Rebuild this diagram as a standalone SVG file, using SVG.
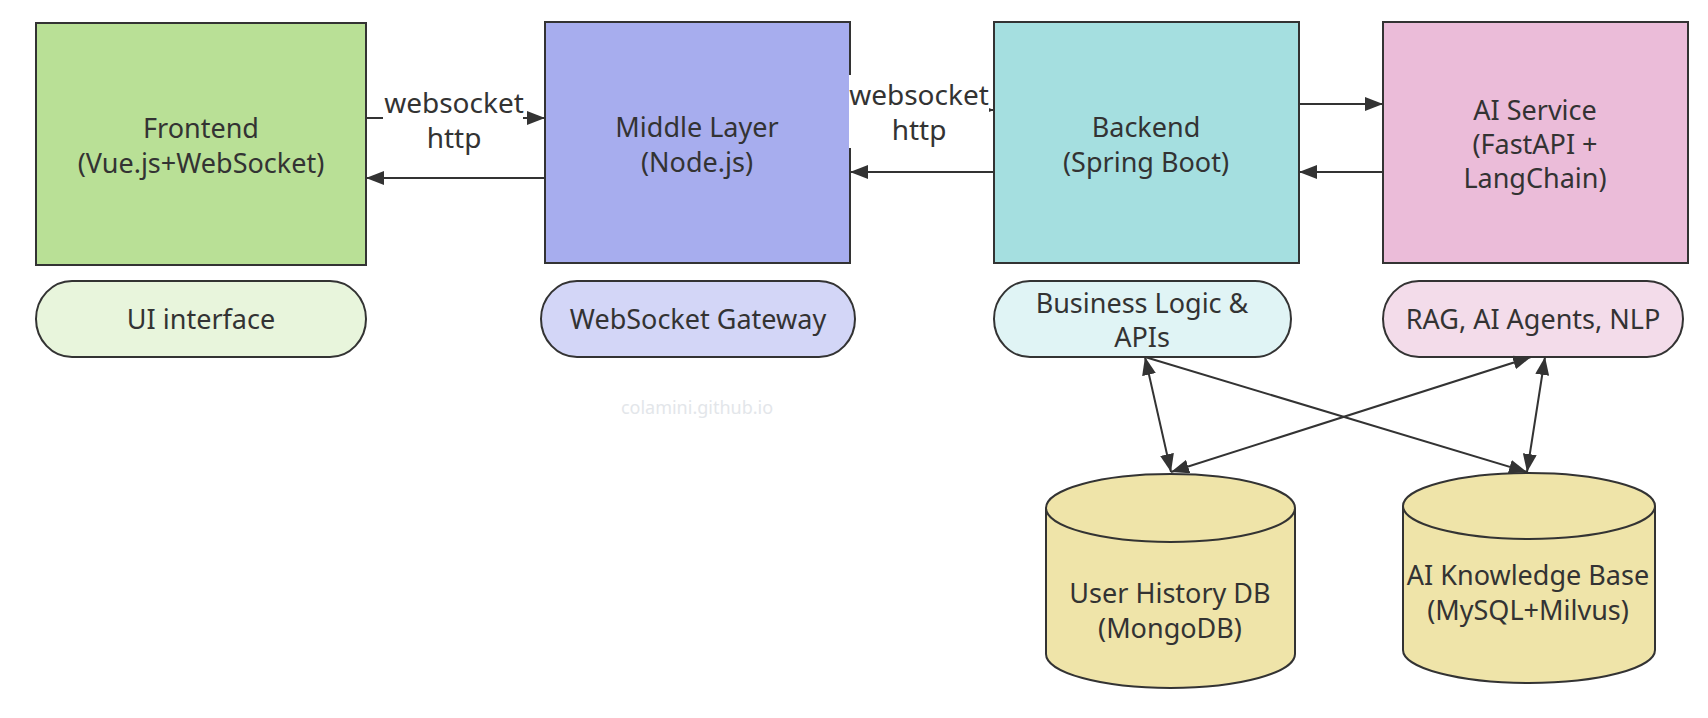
<svg xmlns="http://www.w3.org/2000/svg" width="1708" height="718" viewBox="0 0 1708 718">
<defs>
<marker id="arr" markerUnits="userSpaceOnUse" markerWidth="18" markerHeight="14" refX="18" refY="7" orient="auto-start-reverse">
<path d="M0,0 L18,7 L0,14 z" fill="#333"/>
</marker>
<style>
text{font-family:"Noto Sans","Open Sans","DejaVu Sans",sans-serif;fill:#333;text-anchor:middle}
.t{font-size:27px}
.e{font-size:28px}
.box{stroke:#333;stroke-width:2}
.pill{stroke:#333;stroke-width:2}
.db{fill:#efe4a9;stroke:#333;stroke-width:2}
.ln{fill:none;stroke:#333;stroke-width:2}
.lbl{fill:#fff}
.wm{font-size:18px;fill:#e3e6ea}
</style>
</defs>
<rect width="1708" height="718" fill="#fff"/>
<text class="wm" x="697" y="414">colamini.github.io</text>
<g id="frontend">
<rect class="box" x="36" y="23" width="330" height="242" fill="#b9e096"/>
<text class="t" x="201" y="138">Frontend</text>
<text class="t" x="201" y="173">(Vue.js+WebSocket)</text>
</g>
<g id="middle">
<rect class="box" x="545" y="22" width="305" height="241" fill="#a7adee"/>
<text class="t" x="697" y="137">Middle Layer</text>
<text class="t" x="697" y="172">(Node.js)</text>
</g>
<g id="backend">
<rect class="box" x="994" y="22" width="305" height="241" fill="#a5dfe0"/>
<text class="t" x="1146" y="137">Backend</text>
<text class="t" x="1146" y="172">(Spring Boot)</text>
</g>
<g id="aiservice">
<rect class="box" x="1383" y="22" width="305" height="241" fill="#ebbcd9"/>
<text class="t" x="1535" y="120">AI Service</text>
<text class="t" x="1535" y="154">(FastAPI +</text>
<text class="t" x="1535" y="188">LangChain)</text>
</g>
<g id="ui-interface">
<rect class="pill" x="36" y="281" width="330" height="76" rx="36" ry="38" fill="#e8f5dc"/>
<text class="t" x="201" y="329">UI interface</text>
</g>
<g id="ws-gateway">
<rect class="pill" x="541" y="281" width="314" height="76" rx="36" ry="38" fill="#d3d6f7"/>
<text class="t" x="698" y="329">WebSocket Gateway</text>
</g>
<g id="business">
<rect class="pill" x="994" y="281" width="297" height="76" rx="36" ry="38" fill="#e0f4f5"/>
<text class="t" x="1142" y="313">Business Logic &amp;</text>
<text class="t" x="1142" y="347">APIs</text>
</g>
<g id="rag">
<rect class="pill" x="1383" y="281" width="300" height="76" rx="36" ry="38" fill="#f3dcea"/>
<text class="t" x="1533" y="329">RAG, AI Agents, NLP</text>
</g>
<g id="userdb">
<path class="db" d="M1046,508 A124.5,34 0 0 1 1295,508 V654 A124.5,34 0 0 1 1046,654 Z"/>
<path class="ln" d="M1046,508 A124.5,34 0 0 0 1295,508"/>
<text class="t" x="1170" y="603">User History DB</text>
<text class="t" x="1170" y="638">(MongoDB)</text>
</g>
<g id="kb">
<path class="db" d="M1403,506 A126,33 0 0 1 1655,506 V650 A126,33 0 0 1 1403,650 Z"/>
<path class="ln" d="M1403,506 A126,33 0 0 0 1655,506"/>
<text class="t" x="1528" y="585">AI Knowledge Base</text>
<text class="t" x="1528" y="620">(MySQL+Milvus)</text>
</g>
<g id="connectors">
<path class="ln" d="M366,118 H545" marker-end="url(#arr)"/>
<rect class="lbl" x="383" y="84" width="140" height="70"/>
<text class="e" x="454" y="113">websocket</text>
<text class="e" x="454" y="148">http</text>
<path class="ln" d="M545,178 H366" marker-end="url(#arr)"/>
<path class="ln" d="M850,110 H994" marker-end="url(#arr)"/>
<rect class="lbl" x="849" y="75" width="140" height="73"/>
<text class="e" x="919" y="105">websocket</text>
<text class="e" x="919" y="140">http</text>
<path class="ln" d="M994,172 H850" marker-end="url(#arr)"/>
<path class="ln" d="M1299,104 H1383" marker-end="url(#arr)"/>
<path class="ln" d="M1383,172 H1299" marker-end="url(#arr)"/>
<path class="ln" d="M1145,357 L1171,472" marker-start="url(#arr)" marker-end="url(#arr)"/>
<path class="ln" d="M1145,357 L1527,472" marker-end="url(#arr)"/>
<path class="ln" d="M1171,472 L1531,357" marker-start="url(#arr)" marker-end="url(#arr)"/>
<path class="ln" d="M1545,357 L1527,472" marker-start="url(#arr)" marker-end="url(#arr)"/>
</g>
</svg>
